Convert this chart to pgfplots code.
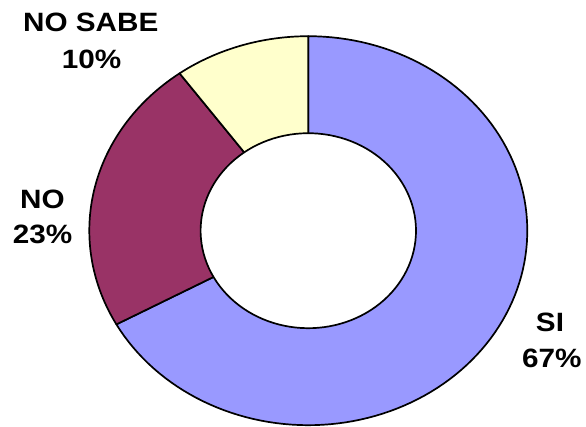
\documentclass[border=0pt]{standalone}
\usepackage{pgfplots}
\pgfplotsset{compat=1.18}
\usepackage{fontspec}
\setmainfont{Liberation Sans}
\definecolor{cSI}{HTML}{9999FF}
\definecolor{cNO}{HTML}{993366}
\definecolor{cNS}{HTML}{FFFFCC}
% shares (%)
\def\vSI{67}
\def\vNO{23}
\def\vNS{10}
% geometry (px)
\def\cx{308.3}
\def\cy{195.3}
\def\rxo{219}
\def\ryo{194.5}
\def\rxi{107.7}
\def\ryi{97.5}
\newcommand{\lab}[1]{\scalebox{1.12}[1]{\fontsize{26.5}{30}\selectfont\bfseries #1}}
\begin{document}
\begin{tikzpicture}
\begin{axis}[
  scale only axis, width=586pt, height=426pt,
  xmin=0, xmax=586, ymin=0, ymax=426,
  hide axis, clip=false,
]
\path[draw=none] (rel axis cs:0,0) rectangle (rel axis cs:1,1);
% SI
\addplot[fill=cSI, draw=black, line width=1.7pt, line join=round, domain={90-3.6*\vSI}:90, samples=120, variable=\t]
  ({\cx+\rxo*cos(\t)},{\cy+\ryo*sin(\t)}) -- (axis cs:\cx,\cy) -- cycle;
% NO
\addplot[fill=cNO, draw=black, line width=1.7pt, line join=round, domain={90-3.6*(\vSI+\vNO)}:{90-3.6*\vSI}, samples=60, variable=\t]
  ({\cx+\rxo*cos(\t)},{\cy+\ryo*sin(\t)}) -- (axis cs:\cx,\cy) -- cycle;
% NO SABE
\addplot[fill=cNS, draw=black, line width=1.7pt, line join=round, domain={90-3.6*(\vSI+\vNO+\vNS)}:{90-3.6*(\vSI+\vNO)}, samples=40, variable=\t]
  ({\cx+\rxo*cos(\t)},{\cy+\ryo*sin(\t)}) -- (axis cs:\cx,\cy) -- cycle;
% hole
\addplot[fill=white, draw=black, line width=1.7pt, domain=0:360, samples=120, variable=\t]
  ({\cx+\rxi*cos(\t)},{\cy+\ryi*sin(\t)}) -- cycle;
% labels
\node[anchor=base] at (axis cs:90.8,394.3) {\lab{NO SABE}};
\node[anchor=base] at (axis cs:91.5,357.7) {\lab{\vNS\%}};
\node[anchor=base] at (axis cs:42.5,217.7) {\lab{NO}};
\node[anchor=base] at (axis cs:42.5,182.7) {\lab{\vNO\%}};
\node[anchor=base] at (axis cs:550,95) {\lab{SI}};
\node[anchor=base] at (axis cs:551.7,59) {\lab{\vSI\%}};
\end{axis}
\end{tikzpicture}
\end{document}
